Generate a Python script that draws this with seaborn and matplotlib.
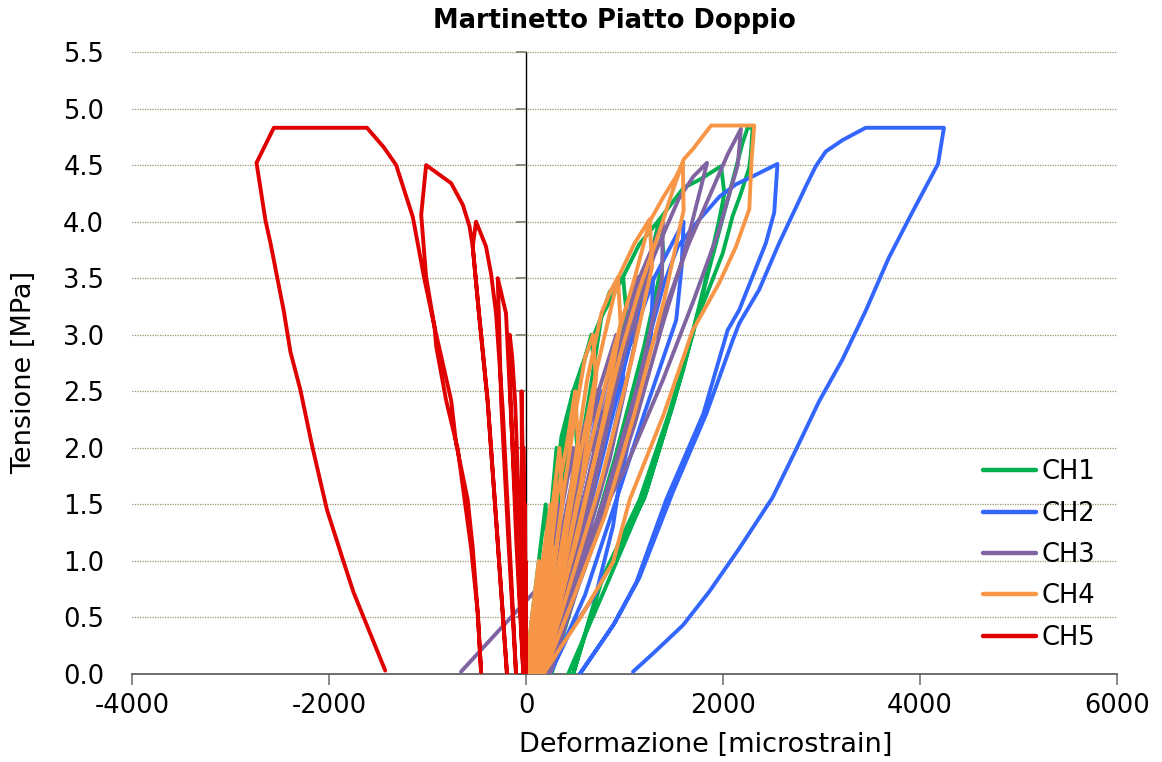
import matplotlib
matplotlib.use("Agg")
import matplotlib.pyplot as plt
import numpy as np
import pandas as pd
import seaborn as sns

# Flat-jack test: stress vs. strain for the five strain gauges, one continuous
# polyline per channel running through all loading/unloading cycles.
channels = ["CH1", "CH2", "CH3", "CH4", "CH5"]
colors = ["#00B050", "#3366FF", "#8064A2", "#F79646", "#E00000"]

ch1 = [(0, 0), (60, 0.5), (130, 1.0), (200, 1.5), (220, 1.0), (160, 0.5), (40, 0),
       (100, 0.5), (190, 1.0), (260, 1.5), (310, 2.0), (340, 1.5), (270, 0.8), (80, 0),
       (150, 0.5), (230, 1.0), (290, 1.6), (360, 2.1), (479, 2.5), (520, 2.0), (430, 1.2), (250, 0.5), (110, 0),
       (209, 0.5), (290, 1.2), (380, 2.0), (479, 2.5), (614, 2.84), (664, 3.0), (700, 2.6), (580, 1.8), (380, 0.9), (150, 0),
       (260, 0.6), (350, 1.4), (450, 2.3), (614, 2.84), (766, 3.16), (850, 3.38), (985, 3.51), (1020, 3.2), (860, 2.4),
       (600, 1.3), (350, 0.6), (200, 0),
       (330, 0.7), (480, 1.6), (650, 2.5), (766, 3.16), (985, 3.51), (1150, 3.8), (1356, 4.02), (1400, 3.7), (1200, 2.9),
       (900, 1.9), (600, 1.0), (260, 0),
       (420, 0.6), (650, 1.5), (900, 2.4), (1100, 3.1), (1356, 4.02), (1600, 4.3), (1761, 4.37), (1980, 4.49), (2014, 4.25),
       (1963, 4.02), (1800, 3.4), (1600, 2.7), (1200, 1.55), (760, 0.8), (479, 0),
       (749, 0.8), (1153, 1.54), (1450, 2.3), (1693, 3.0), (1850, 3.55), (2064, 4.25), (2200, 4.7), (2250, 4.83),
       (2300, 4.83), (2284, 4.61), (2267, 4.48), (2182, 4.25), (2098, 4.05), (1997, 3.72), (1828, 3.34), (1727, 3.13),
       (1500, 2.4), (1221, 1.61), (800, 0.75), (428, 0)]

ch2 = [(0, 0), (100, 0.5), (220, 1.0), (210, 0.5), (80, 0),
       (200, 0.6), (330, 1.1), (420, 1.5), (400, 1.0), (260, 0.5), (120, 0),
       (260, 0.6), (420, 1.3), (560, 2.0), (540, 1.5), (380, 0.8), (160, 0),
       (320, 0.6), (500, 1.4), (650, 2.0), (760, 2.5), (740, 2.0), (550, 1.2), (330, 0.5), (190, 0),
       (380, 0.7), (600, 1.6), (820, 2.4), (1000, 3.0), (980, 2.5), (750, 1.6), (450, 0.7), (210, 0),
       (420, 0.7), (700, 1.7), (950, 2.6), (1150, 3.2), (1290, 3.5), (1270, 3.0), (1000, 2.1), (650, 1.1), (230, 0),
       (400, 0.6), (600, 1.3), (800, 2.0), (1050, 2.9), (1300, 3.5), (1600, 4.0), (1580, 3.6), (1525, 3.13), (1200, 2.3),
       (917, 1.54), (600, 0.7), (243, 0),
       (445, 0.37), (715, 0.72), (884, 1.31), (934, 1.61), (1100, 2.3), (1271, 3.04), (1400, 3.45), (1541, 3.78),
       (1761, 4.02), (1963, 4.22), (2132, 4.33), (2300, 4.40), (2553, 4.51), (2520, 4.08), (2435, 3.81), (2165, 3.22),
       (2047, 3.04), (1800, 2.3), (1423, 1.54), (1120, 0.81), (884, 0.43), (546, 0),
       (900, 0.45), (1150, 0.85), (1491, 1.61), (1830, 2.3), (2098, 2.95), (2165, 3.1), (2368, 3.4), (2570, 3.81),
       (2840, 4.31), (2942, 4.49), (3043, 4.62), (3212, 4.72), (3448, 4.83), (4243, 4.83), (4183, 4.51), (3920, 4.08),
       (3683, 3.68), (3448, 3.21), (3212, 2.78), (2975, 2.41), (2739, 1.98), (2503, 1.56), (2165, 1.11), (1862, 0.73),
       (1592, 0.43), (1288, 0.18), (1086, 0.02)]

ch3 = [(0, 0), (80, 0.5), (160, 1.0), (150, 0.5), (50, 0),
       (150, 0.6), (250, 1.1), (330, 1.5), (320, 1.0), (200, 0.5), (80, 0),
       (200, 0.7), (350, 1.4), (480, 2.0), (460, 1.4), (300, 0.7), (110, 0),
       (250, 0.7), (420, 1.5), (560, 2.1), (715, 2.51), (690, 1.9), (480, 1.1), (260, 0.5), (140, 0),
       (300, 0.8), (500, 1.6), (700, 2.4), (917, 3.0), (880, 2.4), (650, 1.5), (380, 0.7), (170, 0),
       (360, 0.8), (600, 1.8), (850, 2.7), (1000, 3.2), (1137, 3.51), (1100, 2.9), (850, 1.9), (550, 1.0), (200, 0),
       (420, 0.9), (700, 2.0), (950, 2.9), (1150, 3.5), (1390, 3.99), (1380, 3.5), (1150, 2.6), (850, 1.6), (500, 0.8), (220, 0),
       (450, 0.9), (750, 2.0), (1050, 3.0), (1300, 3.7), (1550, 4.2), (1700, 4.4), (1838, 4.52), (1778, 4.31), (1600, 3.7),
       (1390, 3.1), (1100, 2.2), (850, 1.54), (500, 0.7), (243, 0),
       (500, 0.8), (850, 1.7), (1150, 2.6), (1400, 3.2), (1650, 3.8), (1900, 4.3), (2050, 4.6), (2182, 4.82), (2150, 4.5),
       (1950, 3.9), (1700, 3.3), (1390, 2.6), (1000, 1.8), (600, 1.15), (300, 0.93), (-660, 0.02)]

ch4 = [(0, 0), (60, 0.5), (130, 1.0), (140, 0.6), (40, 0),
       (110, 0.6), (200, 1.2), (250, 1.5), (270, 1.0), (180, 0.5), (60, 0),
       (150, 0.6), (277, 1.54), (340, 2.0), (370, 1.5), (260, 0.8), (90, 0),
       (200, 0.7), (320, 1.6), (411, 2.01), (500, 2.5), (530, 2.0), (400, 1.2), (220, 0.5), (110, 0),
       (230, 0.6), (380, 1.6), (500, 2.3), (600, 2.8), (680, 3.0), (710, 2.6), (560, 1.7), (350, 0.8), (140, 0),
       (280, 0.7), (450, 1.6), (620, 2.6), (766, 3.19), (850, 3.37), (934, 3.51), (960, 3.1), (800, 2.3), (520, 1.2),
       (300, 0.5), (150, 0),
       (320, 0.8), (520, 1.8), (720, 2.7), (934, 3.5), (1103, 3.81), (1255, 4.02), (1280, 3.6), (1080, 2.8), (760, 1.7),
       (450, 0.8), (170, 0),
       (380, 0.9), (620, 1.9), (900, 2.9), (1103, 3.5), (1255, 4.0), (1390, 4.21), (1525, 4.40), (1592, 4.52), (1600, 4.1),
       (1400, 3.3), (1100, 2.3), (800, 1.4), (450, 0.6), (180, 0),
       (420, 0.9), (700, 1.9), (950, 2.8), (1150, 3.4), (1350, 3.9), (1480, 4.25), (1600, 4.55), (1693, 4.64), (1879, 4.85),
       (2317, 4.85), (2290, 4.55), (2267, 4.11), (2132, 3.78), (1963, 3.46), (1693, 3.04), (1400, 2.3), (1052, 1.54),
       (884, 0.99), (546, 0.49), (175, 0)]

ch5 = [(0, 0), (-3, 0.5), (-6, 1.0), (-5, 0.5), (-2, 0),
       (-6, 0.8), (-10, 1.5), (-9, 0.8), (-5, 0),
       (-12, 1.0), (-27, 2.0), (-22, 1.0), (-8, 0),
       (-20, 1.2), (-45, 2.5), (-38, 1.2), (-15, 0),
       (-60, 1.2), (-110, 2.4), (-140, 2.8), (-165, 3.0), (-160, 2.5), (-100, 1.2), (-27, 0),
       (-100, 1.4), (-170, 2.6), (-203, 3.19), (-287, 3.5), (-270, 3.0), (-253, 2.42), (-180, 1.2), (-101, 0),
       (-170, 1.2), (-237, 2.35), (-304, 3.19), (-355, 3.54), (-406, 3.78), (-507, 4.0), (-541, 3.78), (-473, 3.16),
       (-389, 2.42), (-290, 1.2), (-193, 0),
       (-290, 1.2), (-389, 2.4), (-480, 3.2), (-541, 3.78), (-574, 3.96), (-642, 4.15), (-760, 4.34), (-1014, 4.5),
       (-1064, 4.06), (-1014, 3.51), (-929, 3.07), (-760, 2.42), (-710, 2.04), (-592, 1.54), (-541, 1.12), (-490, 0.54),
       (-456, 0.02),
       (-490, 0.54), (-558, 1.12), (-693, 1.99), (-811, 2.42), (-912, 2.90), (-929, 3.07), (-1031, 3.49), (-1149, 4.04),
       (-1318, 4.5), (-1446, 4.66), (-1615, 4.83), (-2560, 4.83), (-2736, 4.52), (-2645, 4.01), (-2594, 3.81),
       (-2459, 3.21), (-2392, 2.85), (-2290, 2.51), (-2172, 2.02), (-2020, 1.45), (-1851, 0.99), (-1750, 0.72),
       (-1429, 0.03)]

x_ticks = [-4000, -2000, 0, 2000, 4000, 6000]
y_ticks = [0.0, 0.5, 1.0, 1.5, 2.0, 2.5, 3.0, 3.5, 4.0, 4.5, 5.0, 5.5]

rows = []
for name, pts in zip(channels, [ch1, ch2, ch3, ch4, ch5]):
    for step, (strain, stress) in enumerate(pts):
        rows.append((name, step, strain, stress))
df = pd.DataFrame(rows, columns=["channel", "step", "strain", "stress"])

sns.set_style("white")
plt.rcParams["font.family"] = ["DejaVu Sans"]
plt.rcParams["text.color"] = "black"
plt.rcParams["axes.labelcolor"] = "black"
plt.rcParams["xtick.color"] = "black"
plt.rcParams["ytick.color"] = "black"

fig = plt.figure(figsize=(11.62, 7.62), dpi=100)
ax = fig.add_axes([132 / 1162, 1 - 674 / 762, 985 / 1162, 622 / 762])

sns.lineplot(data=df, x="strain", y="stress", hue="channel", hue_order=channels,
             palette=dict(zip(channels, colors)), sort=False, estimator=None,
             linewidth=2.8, ax=ax, zorder=3)

ax.set_xlim(-4000, 6000)
ax.set_ylim(0, 5.5)
ax.set_xticks(x_ticks)
ax.set_xticklabels([str(v) for v in x_ticks])
ax.set_yticks(y_ticks)
ax.set_yticklabels([f"{v:.1f}" for v in y_ticks])

# dotted horizontal gridlines
ax.yaxis.grid(True, color="#9C9470", linestyle=(0, (1, 1)), linewidth=0.9, zorder=0)
ax.xaxis.grid(False)

for side in ["top", "right", "left"]:
    ax.spines[side].set_visible(False)
ax.spines["bottom"].set_color("#555555")
ax.spines["bottom"].set_linewidth(1.2)

ax.tick_params(axis="x", direction="out", length=8, width=1.3, color="#808080",
               labelcolor="black", labelsize=18.5, pad=6, bottom=True)
ax.tick_params(axis="y", length=0, labelsize=18.5, labelcolor="black", pad=20)

# value axis drawn where the strain is zero
yax0 = ax.secondary_yaxis(0.4)
yax0.set_yticks(y_ticks)
yax0.tick_params(axis="y", direction="out", length=7, width=1.3, color="#808080", labelleft=False)
yax0.spines["left"].set_color("black")
yax0.spines["left"].set_linewidth(1.0)

ax.set_xlabel("Deformazione [microstrain]", fontsize=19.5)
ax.xaxis.set_label_coords((706 - 132) / 985, (674 - 745) / 622)
ax.xaxis.label.set_va("center")
ax.set_ylabel("Tensione [MPa]", fontsize=19.5)
ax.yaxis.set_label_coords((24 - 132) / 985, (674 - 372) / 622)
ax.yaxis.label.set_va("center")

fig.text(614 / 1162, 1 - 21 / 762, "Martinetto Piatto Doppio", ha="center", va="center",
         fontsize=18.5, fontweight="bold")

leg = ax.legend(loc="lower left", bbox_to_anchor=(0.840, 0.0), frameon=False,
                fontsize=18.5, handlelength=2.1, handletextpad=0.2, labelspacing=0.6,
                borderpad=0.4)
for line in leg.get_lines():
    line.set_linewidth(3.2)

fig.savefig("out.png", dpi=100)
